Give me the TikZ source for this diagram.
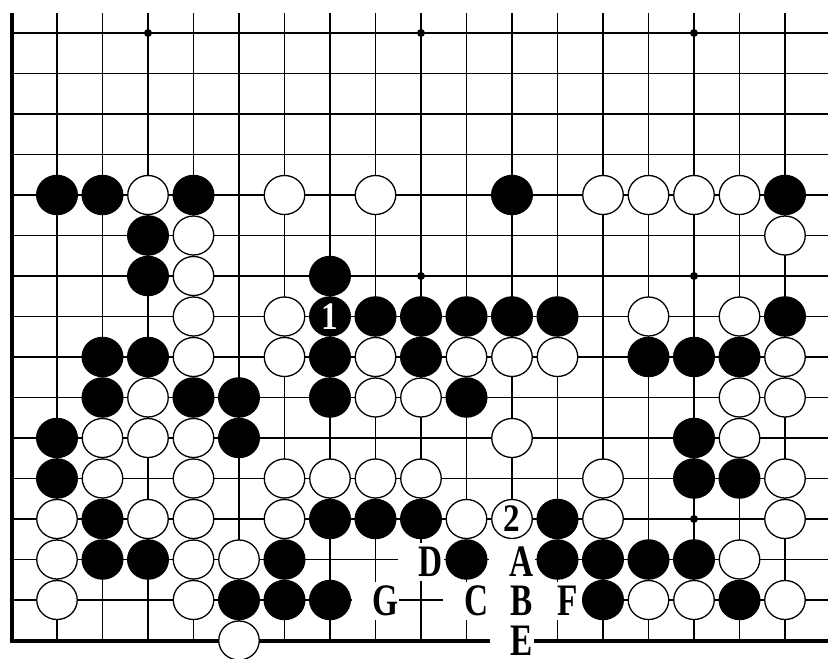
\documentclass[tikz,border=0pt]{standalone}
\usepackage{fontspec}
\setmainfont{Liberation Serif}
\usetikzlibrary{shapes.geometric}
\newcommand\lab[1]{\hspace*{20pt}\scalebox{0.74}[1]{\fontsize{45pt}{45pt}\selectfont\bfseries #1}}
\newcommand\stonenum[2]{\textcolor{#1}{\scalebox{0.85}[1]{\fontsize{39pt}{39pt}\selectfont\bfseries #2}}}
\tikzset{
  gridline/.style={line width=1.9pt, line cap=butt},
  boardedge/.style={line width=4pt},
  hoshi/.style={circle, fill=black, minimum size=8pt, inner sep=0pt},
  bstone/.style={ellipse, fill=black, minimum width=42pt, minimum height=40.5pt, inner sep=0pt},
  wstone/.style={ellipse, draw=black, line width=1.3pt, fill=white, minimum width=40.5pt, minimum height=39pt, inner sep=0pt},
  lbl/.style={fill=white, minimum width=44pt, minimum height=38pt, inner xsep=1pt, inner ysep=0pt}
}
\begin{document}
\begin{tikzpicture}[x=1pt,y=-1pt]
\useasboundingbox (0,0) rectangle (828,659);
\clip (0,0) rectangle (828,659);
\begin{scope}[shift={(11.5pt,-33pt)},x=45.5pt,y=-40.5pt]
  % grid
  \foreach \c in {1,...,10,12,13,...,17} \draw[gridline] (\c,-0.49) -- (\c,15);
  \draw[gridline] (11,-0.49) -- (11,12);
  \foreach \r in {0,...,13} \draw[gridline] (0,\r) -- (18.3,\r);
  \draw[gridline] (0,14) -- (9.6,14);
  \draw[gridline] (12.6,14) -- (18.3,14);
  \draw[boardedge] (0,-0.49) -- (0,15) -- (18.3,15);
  % star points
  \foreach \c/\r in {3/0,9/0,15/0,3/6,9/6,15/6,3/12,9/12,15/12}
    \node[hoshi] (h\c-\r) at (\c,\r) {};
  % labels
  \node[lbl] (lD) at (9,13.05) {\lab{D}};
  \node[lbl] (lA) at (11,13.05) {\lab{A}};
  \node[lbl] (lG) at (8,14.02) {\lab{G}};
  \node[lbl] (lC) at (10,14.02) {\lab{C}};
  \node[lbl] (lB) at (11,14.02) {\lab{B}};
  \node[lbl] (lF) at (12,14.02) {\lab{F}};
  \node[lbl, minimum height=28pt] (lE) at (11,15.0) {\lab{E}};
  % black stones
  \foreach \c/\r in {1/4,2/4,4/4,11/4,17/4,
      3/5,
      3/6,7/6,
      8/7,9/7,10/7,11/7,12/7,17/7,
      2/8,3/8,7/8,9/8,14/8,15/8,16/8,
      2/9,4/9,5/9,7/9,10/9,
      1/10,5/10,15/10,
      1/11,15/11,16/11,
      2/12,7/12,8/12,9/12,12/12,
      2/13,3/13,6/13,10/13,12/13,13/13,14/13,15/13,
      5/14,6/14,7/14,13/14,16/14}
    \node[bstone] (b\c-\r) at (\c,\r) {};
  \node[bstone] (b7-7) at (7,7) {\stonenum{white}{1}};
  % white stones
  \foreach \c/\r in {3/4,6/4,8/4,13/4,14/4,15/4,16/4,
      4/5,17/5,
      4/6,
      4/7,6/7,14/7,16/7,
      4/8,6/8,8/8,10/8,11/8,12/8,17/8,
      3/9,8/9,9/9,16/9,17/9,
      2/10,3/10,4/10,11/10,16/10,
      2/11,4/11,6/11,7/11,8/11,9/11,13/11,17/11,
      1/12,3/12,4/12,6/12,10/12,13/12,17/12,
      1/13,4/13,5/13,16/13,
      1/14,4/14,14/14,15/14,17/14,
      5/15}
    \node[wstone] (w\c-\r) at (\c,\r) {};
  \node[wstone] (w11-12) at (11,12) {\stonenum{black}{2}};
\end{scope}
\end{tikzpicture}
\end{document}
